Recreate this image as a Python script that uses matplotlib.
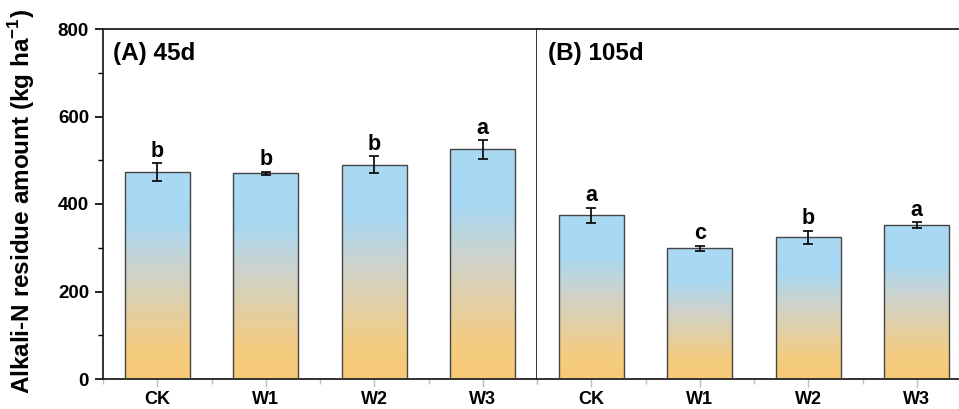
import numpy as np
import matplotlib
matplotlib.use("Agg")
import matplotlib.pyplot as plt
from matplotlib.colors import LinearSegmentedColormap
from matplotlib.ticker import MultipleLocator, FixedLocator

plt.rcParams['font.family'] = ['Liberation Sans', 'DejaVu Sans']
plt.rcParams['font.weight'] = 'bold'
plt.rcParams['mathtext.fontset'] = 'custom'
plt.rcParams['mathtext.rm'] = 'Liberation Sans:bold'
plt.rcParams['mathtext.bf'] = 'Liberation Sans:bold'

categories = ["CK", "W1", "W2", "W3"]
panel_titles = ["(A) 45d", "(B) 105d"]
values_45d = [473, 470, 490, 525]
errors_45d = [20, 4, 20, 21]
letters_45d = ["b", "b", "b", "a"]
values_105d = [374, 299, 324, 352]
errors_105d = [18, 6, 15, 6]
letters_105d = ["a", "c", "b", "a"]

cmap = LinearSegmentedColormap.from_list(
    "bo", [(0.0, "#f7ca76"), (0.15, "#f5cc80"), (0.52, "#cfd3cb"),
           (0.76, "#a7d8f3"), (1.0, "#aad9f3")])

fig = plt.figure(figsize=(9.59, 4.09), dpi=100)
left = 103 / 959
pw = 434 / 959
bottom = 30 / 409
ph = 350 / 409
ax1 = fig.add_axes([left, bottom, pw, ph])
ax2 = fig.add_axes([left + pw, bottom, pw, ph])

grad = np.linspace(0, 1, 256).reshape(-1, 1)

for i, (ax, vals, errs, lets, title) in enumerate(zip(
        [ax1, ax2], [values_45d, values_105d], [errors_45d, errors_105d],
        [letters_45d, letters_105d], panel_titles)):
    x = np.arange(len(categories))
    bars = ax.bar(x, vals, width=0.6, facecolor='none', edgecolor='#444444',
                  linewidth=1.0, zorder=3)
    for b in bars:
        x0, w, h = b.get_x(), b.get_width(), b.get_height()
        im = ax.imshow(grad, cmap=cmap, aspect='auto', origin='lower',
                       extent=(x0, x0 + w, 0, h), zorder=2,
                       interpolation='bilinear')
        im.set_clip_path(b)
    ax.errorbar(x, vals, yerr=errs, fmt='none', ecolor='black',
                elinewidth=1.2, capsize=3.4, capthick=1.2, zorder=4)
    for xi, v, e, l in zip(x, vals, errs, lets):
        ax.text(xi, v + e + 3, l, ha='center', va='bottom', fontsize=15.5,
                fontweight='bold')
    ax.set_xlim(-0.5, 3.5)
    ax.set_ylim(0, 800)
    ax.set_xticks(x)
    ax.set_xticklabels(categories, fontsize=13, fontweight='bold')
    ax.xaxis.set_minor_locator(FixedLocator([-0.5, 0.5, 1.5, 2.5, 3.5]))
    ax.tick_params(axis='x', which='major', direction='out', length=6,
                   width=1.0, color='#a3c6e3', pad=2.5)
    ax.tick_params(axis='x', which='minor', direction='out', length=3.5,
                   width=1.0, color='#a3c6e3')
    ax.text(0.023 if i == 0 else 0.025, 0.929, title, transform=ax.transAxes,
            ha='left', va='center', fontsize=17.5, fontweight='bold')
    for s in ax.spines.values():
        s.set_linewidth(1.3)
        s.set_color('#222222')

ax1.yaxis.set_major_locator(MultipleLocator(200))
ax1.yaxis.set_minor_locator(MultipleLocator(100))
ax1.tick_params(axis='y', which='major', direction='out', length=6, width=1.2,
                labelsize=13.5, pad=4)
ax1.tick_params(axis='y', which='minor', direction='out', length=3.5, width=1.0)
for lab in ax1.get_yticklabels():
    lab.set_fontweight('bold')

ax2.spines['left'].set_visible(False)
ax2.tick_params(axis='y', which='both', left=False, labelleft=False)

fig.text(22 / 959, (409 - 202) / 409,
         r"Alkali-N residue amount (kg ha$^{\mathbf{-1}}$)",
         rotation=90, ha='center', va='center', fontsize=17.5, fontweight='bold')

fig.savefig("out.png", dpi=100)
